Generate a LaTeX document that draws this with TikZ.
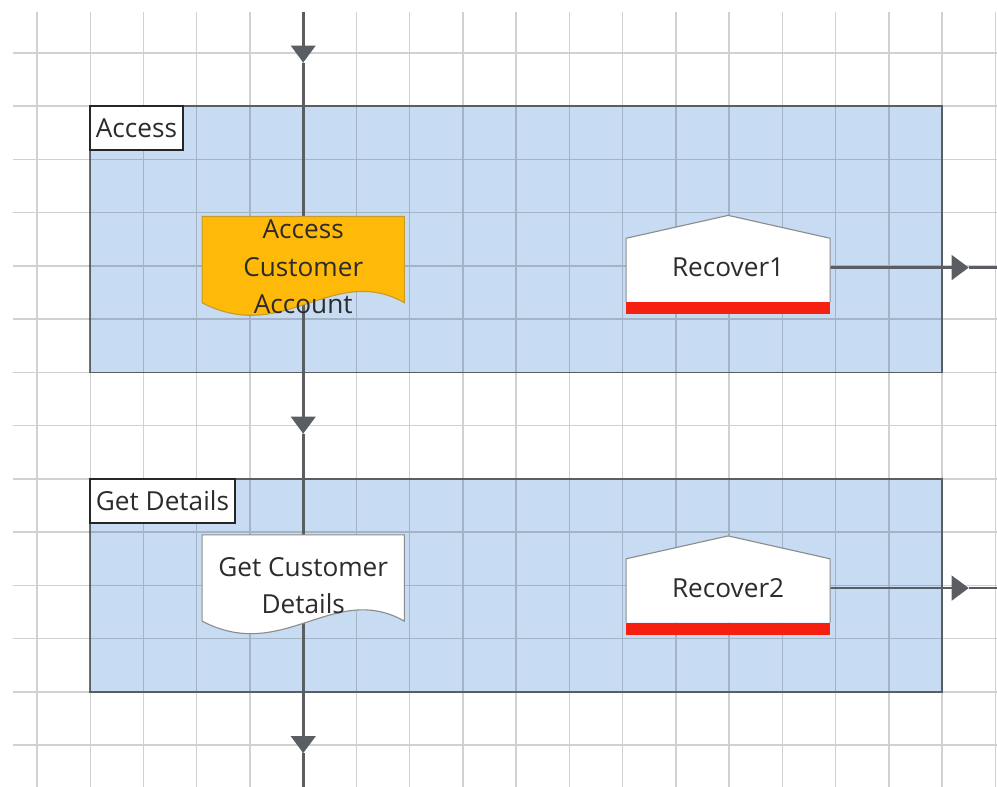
\documentclass[tikz,border=0pt]{standalone}
\usepackage{fontspec}
\setmainfont{Open Sans}
\usepackage{tikz}
\usetikzlibrary{arrows.meta}
\definecolor{lanefill}{HTML}{C7DCF3}
\definecolor{laneline}{HTML}{6E7378}
\definecolor{flowgray}{HTML}{5A5E63}
\definecolor{accorange}{HTML}{FFB908}
\definecolor{accedge}{HTML}{C89A2A}
\definecolor{docedge}{HTML}{8C8C8C}
\definecolor{recred}{HTML}{F52010}
\definecolor{textgray}{HTML}{2C2C2C}
\pgfdeclarelayer{back}
\pgfdeclarelayer{shape}
\pgfsetlayers{back,shape,main}
% document outline, relative to the node centre
\newcommand{\docoutline}{(-1.9,0.95) -- (1.9,0.95) -- (1.9,-0.67) .. controls (0.57,0.08) and (-0.38,-1.47) .. (-1.9,-0.67) -- cycle}

\begin{document}
\begin{tikzpicture}[
	lane/.style={draw=laneline,line width=1pt,fill=lanefill,minimum width=16cm,inner sep=0pt},
	tag/.style={draw=black!85,line width=1pt,fill=white,anchor=north west,inner xsep=3pt,inner ysep=0pt,minimum height=0.83cm,font=\fontsize{14}{17}\selectfont,text=textgray},
	task/.style={minimum width=3.83cm,inner sep=0pt,align=center,font=\fontsize{14}{20}\selectfont,text=textgray},
	flow/.style={draw=flowgray,line width=1.5pt,-{Triangle[length=0.32cm,width=0.46cm]}},
	link/.style={draw=flowgray,line width=1.5pt},
	gridline/.style={draw=black,opacity=0.18,line width=0.8pt}]
	\useasboundingbox (-0.695,0.995) rectangle (18.03,-13.785);
	\begin{pgfonlayer}{back}
		\node[lane,minimum height=5cm] (accLane) at (9,-3.5) {};
		\node[lane,minimum height=4cm] (detLane) at (9,-10) {};
		\draw[gridline] (-0.45,0.77) grid (18.03,-13.785);
	\end{pgfonlayer}
	\node[tag] (accTag) at (accLane.north west) {Access};
	\node[tag] (detTag) at (detLane.north west) {Get Details};
	\node[task] (acc) at (5,-4.02) {Access\\Customer\\Account};
	\node[task] (det) at (5,-10.0) {Get Customer\\Details};
	\node[task] (rec1) at (12.98,-4.03) {Recover1};
	\node[task] (rec2) at (12.98,-10.05) {Recover2};
	\coordinate (top) at (5,0.77);
	\coordinate (in1) at (5,-0.18);
	\coordinate (in2) at (5,-7.15);
	\coordinate (in3) at (5,-13.15);
	\coordinate (bottom) at (5,-13.785);
	\coordinate (out1) at (17.5,-4.03);
	\coordinate (end1) at (18.03,-4.03);
	\coordinate (out2) at (17.5,-10.05);
	\coordinate (end2) at (18.03,-10.05);
	\begin{pgfonlayer}{shape}
		\path[shift={(acc.center)},fill=accorange,draw=accedge,line width=0.6pt] \docoutline;
		\path[shift={(det.center)},fill=white,draw=docedge,line width=0.6pt] \docoutline;
		\foreach \rec in {rec1,rec2} {
			\path[shift={(\rec.center)},fill=white,draw=docedge,line width=0.6pt] (-1.915,-0.65) -- (-1.915,0.55) -- (0,0.98) -- (1.915,0.55) -- (1.915,-0.65);
			\fill[shift={(\rec.center)},recred] (-1.915,-0.65) rectangle (1.915,-0.88);
		}
	\end{pgfonlayer}
	\begin{pgfonlayer}{back}
		\draw[flow] (top) -- (in1);
		\draw[link] (in1) -- (acc.center);
		\draw[flow] (acc.center) -- (in2);
		\draw[link] (in2) -- (det.center);
		\draw[flow] (det.center) -- (in3);
		\draw[link] (in3) -- (bottom);
		\draw[flow] (rec1) -- (out1);
		\draw[link] (out1) -- (end1);
		\draw[flow] (rec2) -- (out2);
		\draw[link] (out2) -- (end2);
	\end{pgfonlayer}
\end{tikzpicture}
\end{document}
